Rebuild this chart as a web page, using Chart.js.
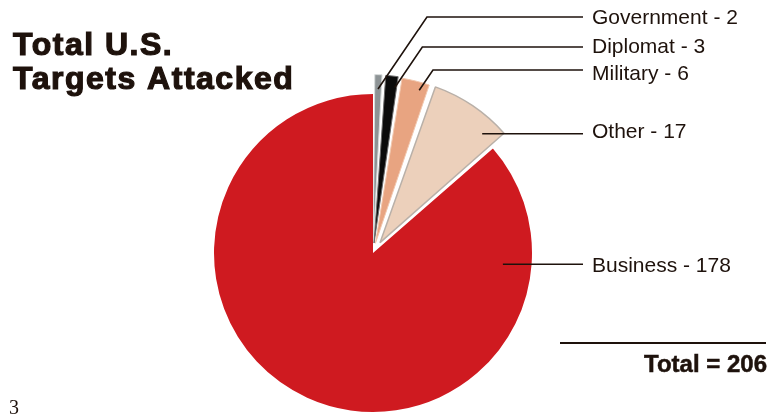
<!DOCTYPE html>
<html>
<head>
<meta charset="utf-8">
<title>Total U.S. Targets Attacked</title>
<script src="https://cdn.jsdelivr.net/npm/chart.js@4.4.1/dist/chart.umd.min.js"></script>
<style>
  html, body { margin: 0; padding: 0; background: #ffffff; overflow: hidden; }
  #chart { display: block; }
</style>
</head>
<body>
<canvas id="chart" width="768" height="415"></canvas>
<script>
// Target categories and attack counts, clockwise from 12 o'clock
const categories = ['Government', 'Diplomat', 'Military', 'Other', 'Business'];
const targetCounts = [2, 3, 6, 17, 178];

const sliceColors = ['#8d9395', '#0b0b0b', '#e8a481', '#ecd0bb', '#cf1a20'];
const sliceBorders = ['#d8dcdc', '#6a6a6a', '#f1c7ae', '#b9b0a8', '#cf1a20'];

const total = targetCounts.reduce((a, b) => a + b, 0);

// Draws the heading, leader lines with labels, and the total
const annotations = {
  id: 'annotations',
  afterDatasetsDraw(chart, args, opts) {
    const ctx = chart.ctx;
    const meta = chart.getDatasetMeta(0);
    const values = chart.data.datasets[0].data;
    ctx.save();

    // leader lines + labels
    ctx.strokeStyle = opts.ink;
    ctx.fillStyle = opts.ink;
    ctx.lineWidth = 1.6;
    ctx.font = '21px "Liberation Sans", Arial, sans-serif';
    ctx.textBaseline = 'alphabetic';
    meta.data.forEach((arc, i) => {
      const p = arc.getProps(['x', 'y', 'startAngle', 'endAngle', 'outerRadius', 'circumference'], true);
      // same shift Chart.js applies when drawing an offset arc
      const off = (arc.options.offset || 0) / 4;
      const mid = (p.startAngle + p.endAngle) / 2;
      const fix = 1 - Math.sin(Math.min(Math.PI, p.circumference || 0));
      const shift = off * (1 + fix);
      const cx = p.x + Math.cos(mid) * shift;
      const cy = p.y + Math.sin(mid) * shift;
      const a = p.startAngle + (p.endAngle - p.startAngle) * opts.anchorT[i];
      const r = p.outerRadius * opts.anchorR[i];
      const ax = cx + Math.cos(a) * r;
      const ay = cy + Math.sin(a) * r;
      const ly = opts.lineY[i] == null ? ay : opts.lineY[i];
      const ex = ax + (ay - ly) * opts.slope;
      ctx.beginPath();
      ctx.moveTo(ax, ay);
      ctx.lineTo(ex, ly);
      ctx.lineTo(opts.lineEnd, ly);
      ctx.stroke();
      ctx.fillText(chart.data.labels[i] + ' - ' + values[i], opts.textX, ly + opts.textDy[i]);
    });

    // heading
    ctx.font = 'bold 32px "Liberation Sans", Arial, sans-serif';
    ctx.letterSpacing = '1.5px';
    ctx.lineWidth = 1.2;
    ['Total U.S.', 'Targets Attacked'].forEach((line, k) => {
      const y = 55 + k * 34;
      ctx.fillText(line, 13, y);
      ctx.strokeText(line, 13, y);
    });
    ctx.letterSpacing = '0px';

    // total rule and figure
    ctx.lineWidth = 2;
    ctx.beginPath();
    ctx.moveTo(560, 343);
    ctx.lineTo(766, 343);
    ctx.stroke();
    ctx.font = 'bold 24px "Liberation Sans", Arial, sans-serif';
    ctx.textAlign = 'right';
    ctx.lineWidth = 0.5;
    ctx.fillText('Total = ' + total, 767, 372);
    ctx.strokeText('Total = ' + total, 767, 372);

    // page number
    ctx.textAlign = 'left';
    ctx.font = '20px "Liberation Serif", "Times New Roman", serif';
    ctx.fillText('3', 9, 414);
    ctx.restore();
  }
};

new Chart(document.getElementById('chart'), {
  type: 'pie',
  data: {
    labels: categories,
    datasets: [{
      data: targetCounts,
      backgroundColor: sliceColors,
      borderColor: sliceBorders,
      borderWidth: [1, 1, 1, 1.5, 0],
      offset: [40, 40, 40, 50, 0],
      clip: false
    }]
  },
  options: {
    responsive: false,
    animation: false,
    radius: 159,
    layout: { padding: { left: 0, right: 22, top: 91, bottom: 0 } },
    plugins: {
      legend: { display: false },
      tooltip: { enabled: false },
      annotations: {
        ink: '#1e120c',
        anchorT: [0.5, 0.8, 0.7, 0.82, 0.148],
        anchorR: [0.91, 0.93, 0.95, 0.9, 0.82],
        lineY: [17, 47, 70, null, null],
        slope: 0.68,
        lineEnd: 583,
        textX: 592,
        textDy: [7, 6, 10, 4, 8]
      }
    }
  },
  plugins: [annotations]
});
</script>
</body>
</html>
